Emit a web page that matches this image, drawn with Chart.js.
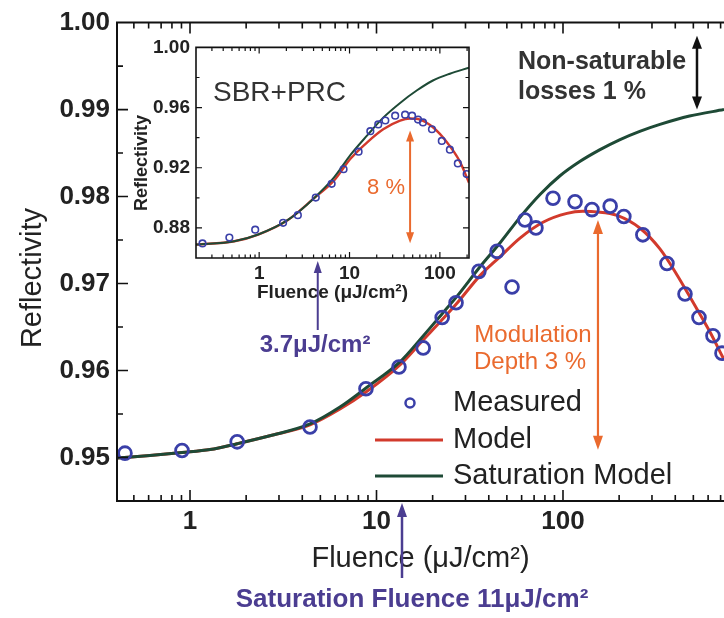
<!DOCTYPE html>
<html><head><meta charset="utf-8">
<script src="https://cdn.jsdelivr.net/npm/chart.js@4.4.1/dist/chart.umd.min.js"></script>
<style>
html,body{margin:0;padding:0;background:#fff;overflow:hidden;}
#wrap{position:relative;width:724px;height:618px;}
#main{position:absolute;left:0;top:0;}
#inset{position:absolute;left:120px;top:30px;}
</style></head><body>
<div id="wrap">
<canvas id="main" width="724" height="618"></canvas>
<canvas id="inset" width="360" height="300"></canvas>
</div>
<script>
// ---------- main chart data ----------
const measuredFluence = [0.448, 0.906, 1.79, 4.40, 8.78, 13.2, 17.8, 22.5, 26.7, 35.4, 44.3, 53.3, 62.5, 71.6, 88.4, 116, 143, 179, 212, 268, 361, 451, 536, 637, 712];
const measuredReflectivity = [0.9505, 0.9508, 0.9518, 0.9535, 0.9579, 0.9604, 0.9626, 0.9661, 0.9678, 0.9714, 0.9737, 0.9696, 0.9773, 0.9764, 0.9798, 0.9794, 0.9785, 0.9789, 0.9777, 0.9756, 0.9723, 0.9688, 0.9661, 0.9640, 0.9620];
const modelFluence = [0.406, 0.61, 0.906, 1.28, 1.79, 2.68, 4.40, 6.37, 8.89, 13.4, 17.8, 22.4, 27.0, 35.9, 45.9, 58.8, 78.1, 105, 128, 152, 195, 259, 331, 408, 498, 614, 730];
const modelReflectivity = [0.94994, 0.95023, 0.95057, 0.95091, 0.95159, 0.95250, 0.95375, 0.95557, 0.95761, 0.96068, 0.96352, 0.96580, 0.96773, 0.97091, 0.97307, 0.97523, 0.97705, 0.97807, 0.97830, 0.97824, 0.97784, 0.97636, 0.97398, 0.97102, 0.96784, 0.96443, 0.96125];
const satFluence = [0.406, 0.61, 0.906, 1.28, 1.79, 2.68, 4.40, 6.37, 8.89, 13.4, 17.8, 22.4, 27.0, 35.9, 45.9, 58.8, 75.3, 96.4, 123, 158, 201, 258, 331, 477, 730];
const satReflectivity = [0.94994, 0.95023, 0.95057, 0.95091, 0.95159, 0.95250, 0.95386, 0.95580, 0.95807, 0.96102, 0.96398, 0.96648, 0.96852, 0.97193, 0.97466, 0.97761, 0.98023, 0.98239, 0.98403, 0.98540, 0.98653, 0.98750, 0.98830, 0.98926, 0.99000];
const mainXMajor = [1, 10, 100];
const mainXMinor = [0.5, 0.6, 0.7, 0.8, 0.9, 2, 3, 4, 5, 6, 7, 8, 9, 20, 30, 40, 50, 60, 70, 80, 90, 200, 300, 400, 500, 600, 700];
const mainYMajor = [0.95, 0.96, 0.97, 0.98, 0.99, 1.00];
const mainYMinor = [0.955, 0.965, 0.975, 0.985, 0.995];

// ---------- inset data ----------
const insetMeasuredFluence = [0.236, 0.468, 0.904, 1.84, 2.68, 4.23, 6.34, 8.59, 12.6, 17.0, 20.8, 24.9, 32.0, 41.2, 49.2, 57.3, 65.0, 81.7, 105, 129, 158, 198];
const insetMeasuredReflectivity = [0.8697, 0.8736, 0.8788, 0.8834, 0.8885, 0.9002, 0.9093, 0.9190, 0.9307, 0.9443, 0.9488, 0.9514, 0.9546, 0.9553, 0.9546, 0.9520, 0.9501, 0.9456, 0.9378, 0.9320, 0.9229, 0.9158];
const insetModelFluence = [0.2, 0.531, 0.975, 2.08, 4.02, 6.67, 10.3, 15.8, 23.6, 36.3, 46.8, 60.3, 83.8, 119, 166, 210];
const insetModelReflectivity = [0.8689, 0.8711, 0.8756, 0.8853, 0.8996, 0.9112, 0.9261, 0.9371, 0.9456, 0.9514, 0.9527, 0.9520, 0.9469, 0.9371, 0.9242, 0.9100];
const insetSatFluence = [0.2, 0.531, 0.975, 2.08, 4.02, 6.67, 10.3, 15.8, 23.6, 36.3, 55.9, 83.8, 129, 210];
const insetSatReflectivity = [0.8689, 0.8711, 0.8756, 0.8853, 0.8996, 0.9132, 0.9287, 0.9417, 0.9533, 0.9631, 0.9715, 0.9780, 0.9825, 0.9865];
const insetXMajor = [1, 10, 100];
const insetXMinor = [0.3, 0.4, 0.5, 0.6, 0.7, 0.8, 0.9, 2, 3, 4, 5, 6, 7, 8, 9, 20, 30, 40, 50, 60, 70, 80, 90, 200];
const insetYMajor = [0.88, 0.92, 0.96, 1.00];
const insetYMinor = [0.86, 0.90, 0.94, 0.98];

// annotation anchor values (data units)
const modulationArrow = {f: 154, from: 0.9773, to: 0.9509};
const lossesArrow = {f: 523, from: 0.9985, to: 0.9900};
const satFluenceMark = 13.7;
const insetDepthArrow = {f: 46.8, from: 0.9447, to: 0.8698};
const insetSatMark = 4.45;

// ---------- styles ----------
const FONT = "'Liberation Sans', Arial, Helvetica, sans-serif";
const BLUE = '#3a3fa8';
const RED = '#d23a2c';
const GREEN = '#1e4a36';
const ORANGE = '#ea6a2e';
const PURPLE = '#4b3d91';
const INK = '#222222';

function pts(xs, ys) { return xs.map((x, i) => ({x: x, y: ys[i]})); }

function drawFrame(chart, o) {
  const ctx = chart.ctx, a = chart.chartArea;
  const xs = chart.scales.x, ys = chart.scales.y;
  ctx.save();
  ctx.strokeStyle = '#111';
  ctx.lineWidth = o.tickWidth;
  ctx.beginPath();
  [[o.xMajor, o.major], [o.xMinor, o.minor]].forEach(([vals, len]) => {
    vals.forEach(v => {
      const p = xs.getPixelForValue(v);
      if (p < a.left + 1 || p > a.right - 0.5) return;
      if (o.sides.includes('b')) { ctx.moveTo(p, a.bottom); ctx.lineTo(p, a.bottom - len); }
      if (o.sides.includes('t')) { ctx.moveTo(p, a.top); ctx.lineTo(p, a.top + len); }
    });
  });
  [[o.yMajor, o.major], [o.yMinor, o.minor]].forEach(([vals, len]) => {
    vals.forEach(v => {
      const p = ys.getPixelForValue(v);
      if (p < a.top + 1 || p > a.bottom - 1) return;
      if (o.sides.includes('l')) { ctx.moveTo(a.left, p); ctx.lineTo(a.left + len, p); }
      if (o.sides.includes('r')) { ctx.moveTo(a.right, p); ctx.lineTo(a.right - len, p); }
    });
  });
  ctx.stroke();
  ctx.lineWidth = o.borderWidth;
  ctx.beginPath();
  if (o.sides.includes('l')) { ctx.moveTo(a.left, a.top); ctx.lineTo(a.left, a.bottom); }
  if (o.sides.includes('b')) { ctx.moveTo(a.left - o.borderWidth / 2, a.bottom); ctx.lineTo(a.right + o.borderWidth / 2, a.bottom); }
  if (o.sides.includes('t')) { ctx.moveTo(a.left - o.borderWidth / 2, a.top); ctx.lineTo(a.right + o.borderWidth / 2, a.top); }
  if (o.sides.includes('r')) { ctx.moveTo(a.right, a.top); ctx.lineTo(a.right, a.bottom); }
  ctx.stroke();
  ctx.restore();
}

function arrowHead(ctx, x, y, dir, w, h) {
  ctx.beginPath();
  ctx.moveTo(x, y);
  ctx.lineTo(x - w / 2, y - dir * h);
  ctx.lineTo(x + w / 2, y - dir * h);
  ctx.closePath();
  ctx.fill();
}

function vArrow(ctx, x, yTop, yBot, color, lw, w, h, both, tipUp) {
  ctx.save();
  ctx.strokeStyle = color; ctx.fillStyle = color; ctx.lineWidth = lw;
  ctx.beginPath();
  const y1 = (both || tipUp) ? yTop + h * 0.8 : yTop;
  const y2 = (both || !tipUp) ? yBot - h * 0.8 : yBot;
  ctx.moveTo(x, y1); ctx.lineTo(x, y2); ctx.stroke();
  if (both || tipUp) arrowHead(ctx, x, yTop, -1, w, h);
  if (both || !tipUp) arrowHead(ctx, x, yBot, 1, w, h);
  ctx.restore();
}

function text(ctx, str, x, y, font, color, align, rot) {
  ctx.save();
  ctx.font = font; ctx.fillStyle = color;
  ctx.textAlign = align || 'left'; ctx.textBaseline = 'middle';
  ctx.translate(x, y);
  if (rot) ctx.rotate(rot);
  ctx.fillText(str, 0, 0);
  ctx.restore();
}

const mainDeco = {
  id: 'mainDeco',
  afterDraw(chart) {
    const ctx = chart.ctx, a = chart.chartArea;
    const xs = chart.scales.x, ys = chart.scales.y;
    drawFrame(chart, {xMajor: mainXMajor, xMinor: mainXMinor, yMajor: mainYMajor, yMinor: mainYMinor,
      major: 11, minor: 6, tickWidth: 1.6, borderWidth: 2, sides: 'lbt'});
    text(ctx, 'Reflectivity', 33, 278, '29px ' + FONT, INK, 'center', -Math.PI / 2);
    // legend
    const ds = chart.data.datasets;
    ctx.save();
    ctx.strokeStyle = ds[0].pointBorderColor; ctx.lineWidth = 2.5;
    ctx.beginPath(); ctx.arc(410, 403, 4.5, 0, Math.PI * 2); ctx.stroke();
    ctx.lineWidth = 3;
    ctx.strokeStyle = ds[2].borderColor; ctx.beginPath(); ctx.moveTo(375, 440); ctx.lineTo(443, 440); ctx.stroke();
    ctx.strokeStyle = ds[1].borderColor; ctx.beginPath(); ctx.moveTo(375, 476); ctx.lineTo(443, 476); ctx.stroke();
    ctx.restore();
    text(ctx, ds[0].label, 453, 403, '29px ' + FONT, INK, 'left');
    text(ctx, ds[2].label, 453, 440, '29px ' + FONT, INK, 'left');
    text(ctx, ds[1].label, 453, 476, '29px ' + FONT, INK, 'left');
    // non-saturable losses
    text(ctx, 'Non-saturable', 518, 62, 'bold 25px ' + FONT, '#333', 'left');
    text(ctx, 'losses 1 %', 518, 92, 'bold 25px ' + FONT, '#333', 'left');
    vArrow(ctx, xs.getPixelForValue(lossesArrow.f), ys.getPixelForValue(lossesArrow.from), ys.getPixelForValue(lossesArrow.to), '#111', 2.5, 10, 13, true);
    // modulation depth
    text(ctx, 'Modulation', 533, 335, '24px ' + FONT, ORANGE, 'center');
    text(ctx, 'Depth 3 %', 530, 362, '24px ' + FONT, ORANGE, 'center');
    vArrow(ctx, xs.getPixelForValue(modulationArrow.f), ys.getPixelForValue(modulationArrow.from), ys.getPixelForValue(modulationArrow.to), ORANGE, 2.2, 10, 14, true);
    // inset saturation fluence label
    text(ctx, '3.7μJ/cm²', 315, 345, 'bold 24px ' + FONT, PURPLE, 'center');
    // saturation fluence
    const sx = xs.getPixelForValue(satFluenceMark);
    vArrow(ctx, sx, a.bottom + 2, 578, PURPLE, 2.5, 10, 14, false, true);
    text(ctx, 'Saturation Fluence 11μJ/cm²', 412, 600, 'bold 26px ' + FONT, PURPLE, 'center');
  }
};

const insetDeco = {
  id: 'insetDeco',
  beforeDraw(chart) {
    const ctx = chart.ctx, a = chart.chartArea;
    ctx.save(); ctx.fillStyle = '#fff';
    ctx.fillRect(a.left, a.top, a.right - a.left, a.bottom - a.top);
    ctx.restore();
  },
  afterDraw(chart) {
    const ctx = chart.ctx, a = chart.chartArea;
    const xs = chart.scales.x, ys = chart.scales.y;
    drawFrame(chart, {xMajor: insetXMajor, xMinor: insetXMinor, yMajor: insetYMajor, yMinor: insetYMinor,
      major: 6, minor: 3.5, tickWidth: 1.2, borderWidth: 1.6, sides: 'lbtr'});
    text(ctx, 'Reflectivity', 22, 133, 'bold 18px ' + FONT, INK, 'center', -Math.PI / 2);
    text(ctx, 'SBR+PRC', 93, 63, '28px ' + FONT, '#333', 'left');
    text(ctx, '8 %', 285, 158, '22px ' + FONT, ORANGE, 'right');
    vArrow(ctx, xs.getPixelForValue(insetDepthArrow.f), ys.getPixelForValue(insetDepthArrow.from), ys.getPixelForValue(insetDepthArrow.to), ORANGE, 2, 8, 11, true);
    vArrow(ctx, xs.getPixelForValue(insetSatMark), a.bottom + 3, 300, PURPLE, 2, 8, 12, false, true);
  }
};

new Chart(document.getElementById('main'), {
  type: 'scatter',
  data: {
    datasets: [
      {label: 'Measured', data: pts(measuredFluence, measuredReflectivity), showLine: false,
       pointRadius: 6.4, pointBorderWidth: 2.8, pointBorderColor: BLUE, pointBackgroundColor: 'rgba(0,0,0,0)'},
      {label: 'Saturation Model', data: pts(satFluence, satReflectivity), showLine: true, borderColor: GREEN,
       borderWidth: 3, pointRadius: 0, cubicInterpolationMode: 'monotone'},
      {label: 'Model', data: pts(modelFluence, modelReflectivity), showLine: true, borderColor: RED,
       borderWidth: 3, pointRadius: 0, cubicInterpolationMode: 'monotone'}
    ]
  },
  options: {
    responsive: false, animation: false, devicePixelRatio: 1,
    layout: {autoPadding: false, padding: {left: 0, top: 17, right: 0, bottom: 0}},
    plugins: {legend: {display: false}, tooltip: {enabled: false}},
    scales: {
      x: {
        type: 'logarithmic', position: 'bottom', min: 0.406, max: 730,
        grid: {display: false, drawTicks: false}, border: {display: false},
        afterBuildTicks: s => { s.ticks = mainXMajor.map(v => ({value: v})); },
        afterFit: s => { s.height = 117; },
        ticks: {callback: v => String(v), autoSkip: false, maxRotation: 0, padding: 5,
                font: {family: FONT, size: 26, weight: 'bold'}, color: INK},
        title: {display: true, text: 'Fluence (μJ/cm²)', color: INK,
                font: {family: FONT, size: 29}, padding: {top: 0, bottom: 42}}
      },
      y: {
        type: 'linear', min: 0.945, max: 1.0,
        grid: {display: false, drawTicks: false}, border: {display: false},
        afterBuildTicks: s => { s.ticks = mainYMajor.map(v => ({value: v})); },
        afterFit: s => { s.width = 117; },
        ticks: {callback: v => Number(v).toFixed(2), autoSkip: false, padding: 7,
                font: {family: FONT, size: 26, weight: 'bold'}, color: INK}
      }
    }
  },
  plugins: [mainDeco]
});

new Chart(document.getElementById('inset'), {
  type: 'scatter',
  data: {
    datasets: [
      {label: 'Measured', data: pts(insetMeasuredFluence, insetMeasuredReflectivity), showLine: false,
       pointRadius: 3.3, pointBorderWidth: 1.6, pointBorderColor: BLUE, pointBackgroundColor: 'rgba(0,0,0,0)'},
      {label: 'Saturation Model', data: pts(insetSatFluence, insetSatReflectivity), showLine: true, borderColor: GREEN,
       borderWidth: 2, pointRadius: 0, cubicInterpolationMode: 'monotone'},
      {label: 'Model', data: pts(insetModelFluence, insetModelReflectivity), showLine: true, borderColor: RED,
       borderWidth: 2.4, pointRadius: 0, cubicInterpolationMode: 'monotone'}
    ]
  },
  options: {
    responsive: false, animation: false, devicePixelRatio: 1,
    layout: {autoPadding: false, padding: {left: 0, top: 13, right: 11, bottom: 0}},
    plugins: {legend: {display: false}, tooltip: {enabled: false}},
    scales: {
      x: {
        type: 'logarithmic', position: 'bottom', min: 0.2, max: 210,
        grid: {display: false, drawTicks: false}, border: {display: false},
        afterBuildTicks: s => { s.ticks = insetXMajor.map(v => ({value: v})); },
        afterFit: s => { s.height = 72; },
        ticks: {callback: v => String(v), autoSkip: false, maxRotation: 0, padding: 4,
                font: {family: FONT, size: 19, weight: 'bold'}, color: INK},
        title: {display: true, text: 'Fluence (μJ/cm²)', color: INK,
                font: {family: FONT, size: 19, weight: 'bold'}, padding: {top: 0, bottom: 26}}
      },
      y: {
        type: 'linear', min: 0.86, max: 1.0,
        grid: {display: false, drawTicks: false}, border: {display: false},
        afterBuildTicks: s => { s.ticks = insetYMajor.map(v => ({value: v})); },
        afterFit: s => { s.width = 76; },
        ticks: {callback: v => Number(v).toFixed(2), autoSkip: false, padding: 6,
                font: {family: FONT, size: 19, weight: 'bold'}, color: INK}
      }
    }
  },
  plugins: [insetDeco]
});
</script>
</body></html>
